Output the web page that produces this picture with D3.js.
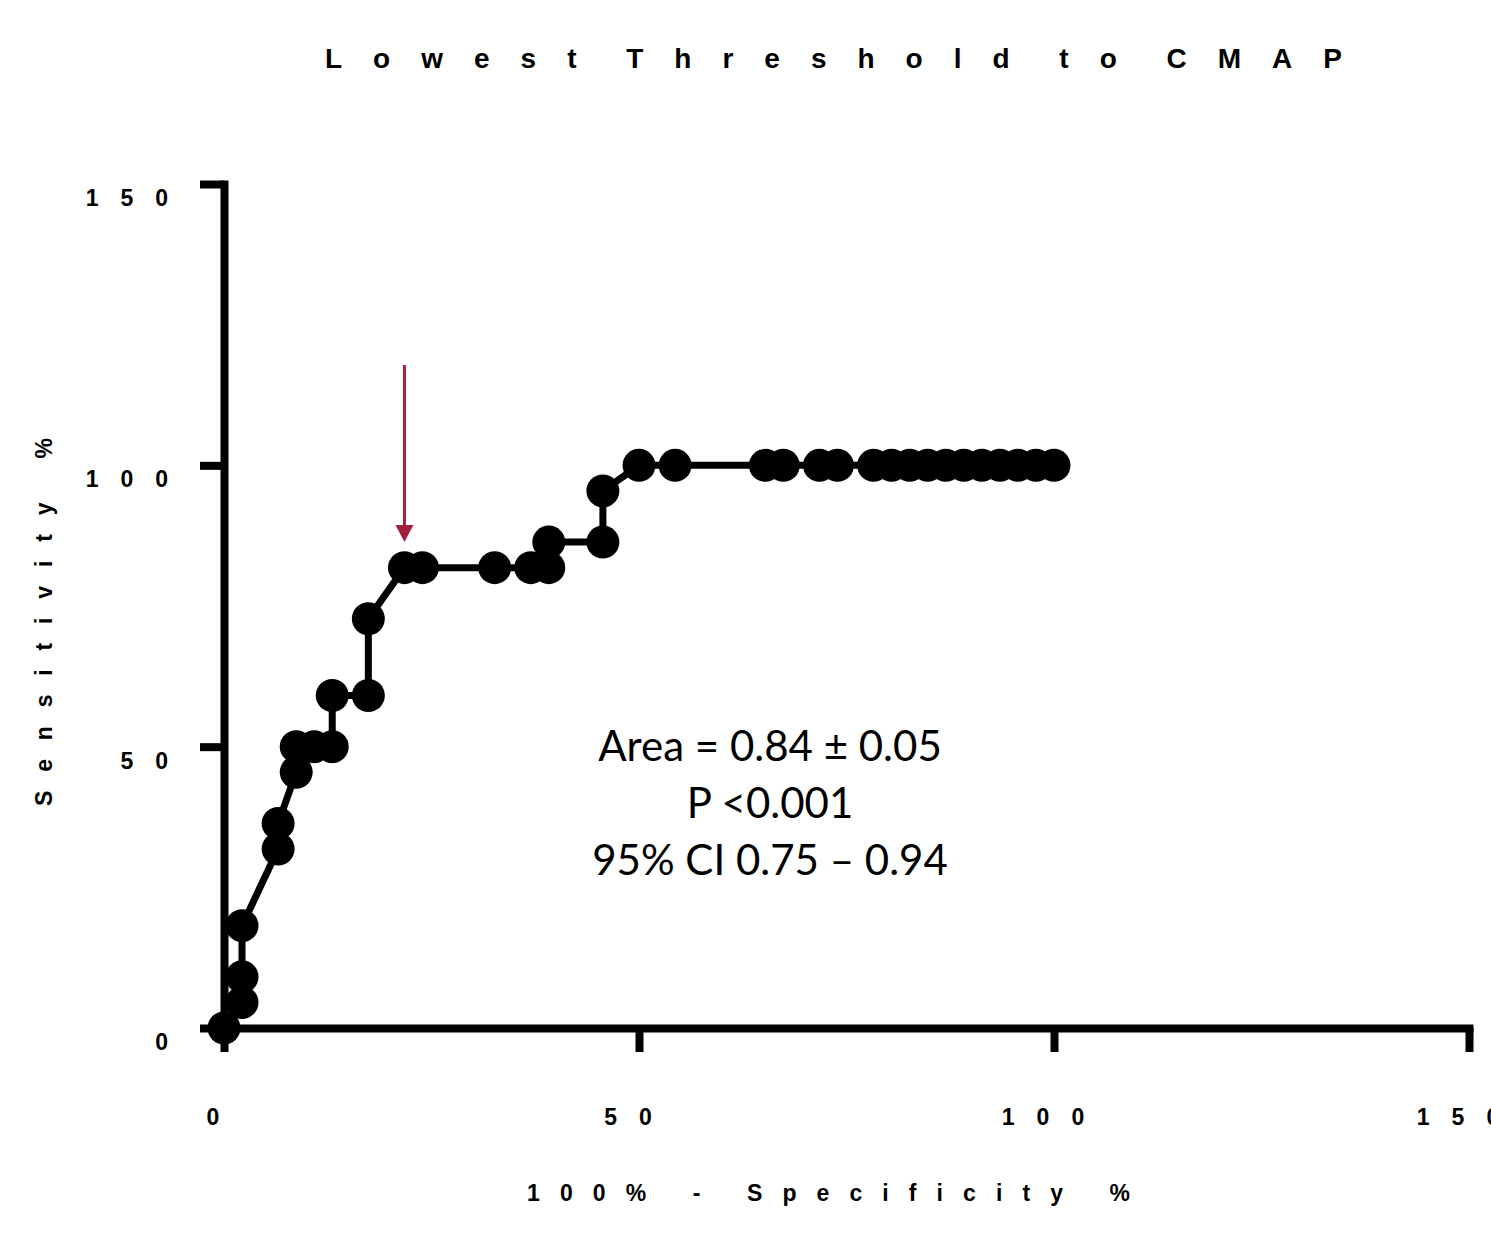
<!DOCTYPE html>
<html>
<head>
<meta charset="utf-8">
<script src="https://cdn.jsdelivr.net/npm/d3@7"></script>
<style>
  body { margin: 0; background: #fff; }
  svg { display: block; }
  .lbl { font-family: "Liberation Sans", Arial, sans-serif; font-weight: bold; fill: #000; }
  .note { font-family: Lato, "Open Sans", sans-serif; font-size: 42px; fill: #000; }
</style>
</head>
<body>
<div id="chart"></div>
<script>
// ROC curve points (100% - specificity, sensitivity)
var fpr = [0, 2.17, 2.17, 2.17, 6.52, 6.52, 8.70, 8.70, 10.87, 13.04, 13.04, 17.39, 17.39,
  21.74, 23.91, 32.61, 36.96, 39.13, 39.13, 45.65, 45.65, 50.00, 54.35, 65.22, 67.39,
  71.74, 73.91, 78.26, 80.43, 82.61, 84.78, 86.96, 89.13, 91.30, 93.48, 95.65, 97.83, 100];
var sens = [0, 4.55, 9.09, 18.18, 31.82, 36.36, 45.45, 50.00, 50.00, 50.00, 59.09, 59.09, 72.73,
  81.82, 81.82, 81.82, 81.82, 81.82, 86.36, 86.36, 95.45, 100, 100, 100, 100,
  100, 100, 100, 100, 100, 100, 100, 100, 100, 100, 100, 100, 100];
var xTicks = [0, 50, 100, 150];
var yTicks = [0, 50, 100, 150];
var title = 'Lowest Threshold to CMAP';
var xTitle = '100% - Specificity %';
var yTitle = 'Sensitivity %';
var notes = ['Area = 0.84 \u00b1 0.05', 'P <0.001', '95% CI 0.75 \u2013 0.94'];
var cutoff = 21.74; // arrow marks this point

var W = 1491, H = 1235;
var svg = d3.select('#chart').append('svg').attr('width', W).attr('height', H);

var x = d3.scaleLinear().domain([0, 150]).range([224, 1469]);
var y = d3.scaleLinear().domain([0, 150]).range([1028, 184]);

// axes
var xAxis = d3.axisBottom(x).tickValues(xTicks).tickSize(24).tickSizeOuter(0).tickFormat('');
var yAxis = d3.axisLeft(y).tickValues(yTicks).tickSize(24).tickSizeOuter(0).tickFormat('');

var gx = svg.append('g').attr('transform', 'translate(0,' + y(0) + ')').call(xAxis);
var gy = svg.append('g').attr('transform', 'translate(' + x(0) + ',0)').call(yAxis);
[gx, gy].forEach(function(g) {
  g.selectAll('path.domain').attr('stroke', '#000').attr('stroke-width', 8).attr('stroke-linecap', 'square');
  g.selectAll('.tick line').attr('stroke', '#000').attr('stroke-width', 8);
});

// tick labels
svg.append('g').selectAll('text').data(xTicks).join('text')
  .attr('class', 'lbl')
  .attr('x', function(d) { return x(d); })
  .attr('y', 1125)
  .attr('text-anchor', 'middle')
  .style('font-size', '23px')
  .style('letter-spacing', '22px')
  .text(function(d) { return d; });

svg.append('g').selectAll('text').data(yTicks).join('text')
  .attr('class', 'lbl')
  .attr('x', 190)
  .attr('y', function(d) { return y(d) + 22; })
  .attr('text-anchor', 'end')
  .style('font-size', '23px')
  .style('letter-spacing', '22px')
  .text(function(d) { return d; });

// titles
svg.append('text').attr('class', 'lbl')
  .attr('x', 325).attr('y', 68)
  .style('font-size', '28px')
  .style('letter-spacing', '31px')
  .style('word-spacing', '-20px')
  .text(title);

svg.append('text').attr('class', 'lbl')
  .attr('x', 527).attr('y', 1201)
  .attr('textLength', 603).attr('lengthAdjust', 'spacing')
  .style('font-size', '23px')
  .text(xTitle);

svg.append('text').attr('class', 'lbl')
  .attr('transform', 'translate(52,806) rotate(-90)')
  .attr('textLength', 368).attr('lengthAdjust', 'spacing')
  .style('font-size', '23px')
  .text(yTitle);

// curve
var pts = fpr.map(function(v, i) { return [v, sens[i]]; });
var line = d3.line().x(function(d) { return x(d[0]); }).y(function(d) { return y(d[1]); });

svg.append('path')
  .datum(pts)
  .attr('d', line)
  .attr('fill', 'none')
  .attr('stroke', '#000')
  .attr('stroke-width', 7)
  .attr('stroke-linejoin', 'round');

svg.append('g').selectAll('circle').data(pts).join('circle')
  .attr('cx', function(d) { return x(d[0]); })
  .attr('cy', function(d) { return y(d[1]); })
  .attr('r', 16.5)
  .attr('fill', '#000');

// arrow to the chosen cut-off
var ax = x(cutoff);
svg.append('line')
  .attr('x1', ax).attr('x2', ax)
  .attr('y1', 365).attr('y2', 528)
  .attr('stroke', '#a3203c').attr('stroke-width', 3);
svg.append('path')
  .attr('d', 'M' + (ax - 9) + ',525 L' + (ax + 9) + ',525 L' + ax + ',542 Z')
  .attr('fill', '#a3203c');

// annotation
svg.append('g').selectAll('text').data(notes).join('text')
  .attr('class', 'note')
  .attr('x', 770)
  .attr('y', function(d, i) { return 761 + i * 57; })
  .attr('text-anchor', 'middle')
  .text(function(d) { return d; });
</script>
</body>
</html>
